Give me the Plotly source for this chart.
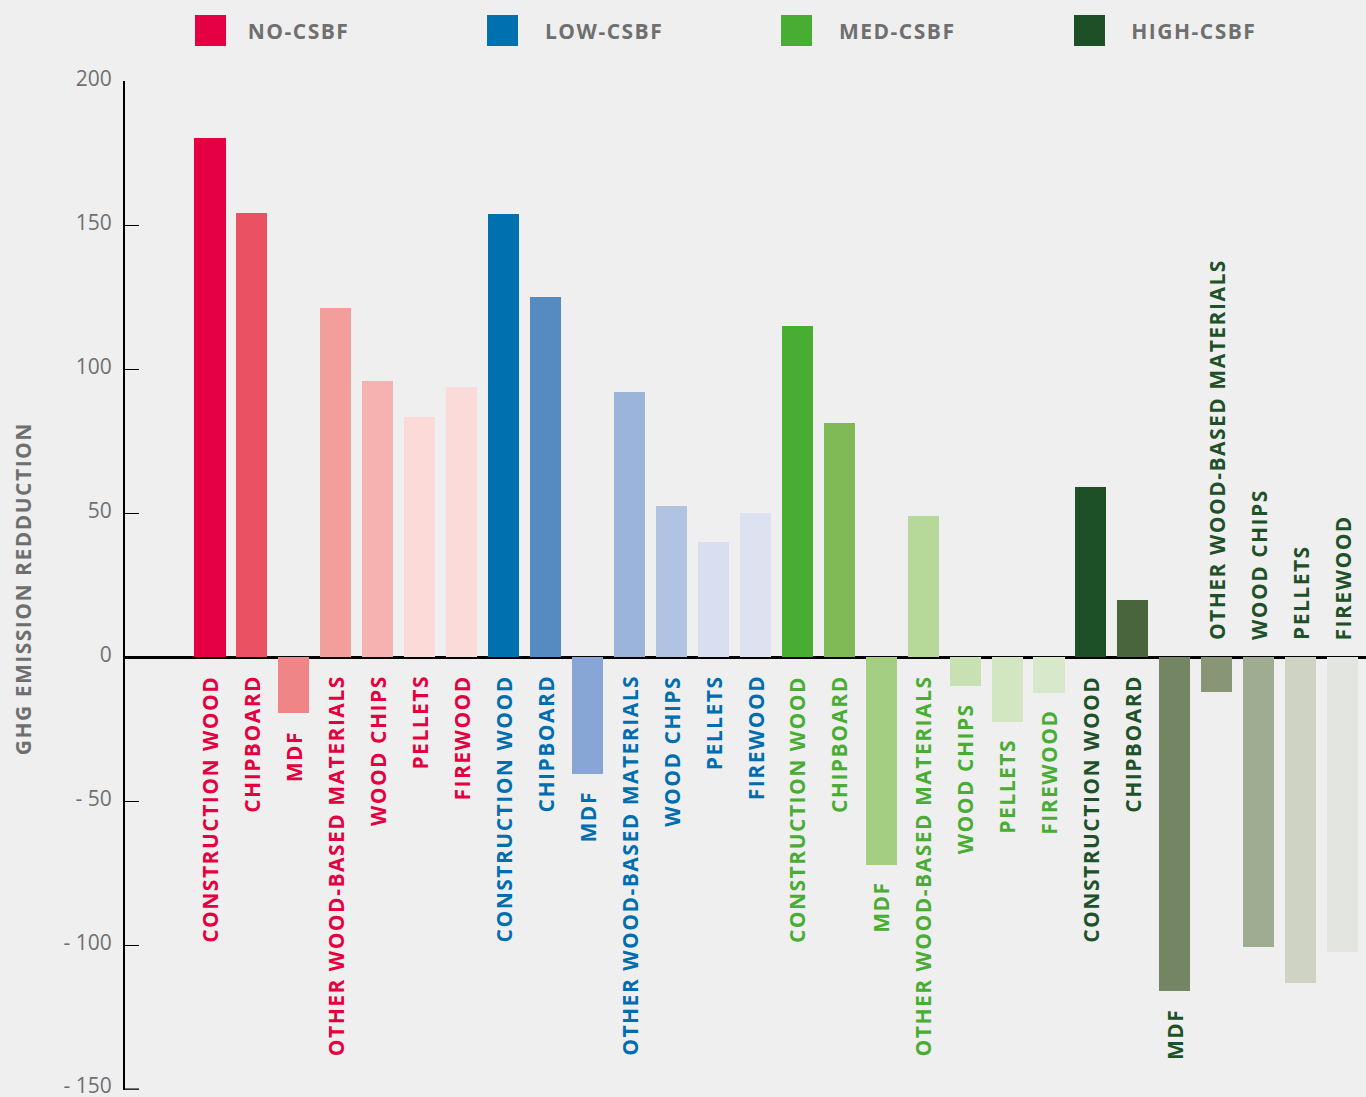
import plotly.graph_objects as go

# ---------------- data ----------------
scenarios = ["NO-CSBF", "LOW-CSBF", "MED-CSBF", "HIGH-CSBF"]
products = ["CONSTRUCTION WOOD", "CHIPBOARD", "MDF", "OTHER WOOD-BASED MATERIALS",
            "WOOD CHIPS", "PELLETS", "FIREWOOD"]

no_csbf = [180.5, 154.5, -19.5, 121.5, 96, 83.5, 94]
low_csbf = [154, 125, -40.5, 92, 52.5, 40, 50]
med_csbf = [115, 81.5, -72, 49, -10, -22.5, -12.5]
high_csbf = [59, 20, -116, -12, -100.5, -113, -102.5]

y_tickvals = [-150, -100, -50, 0, 50, 100, 150, 200]
y_ticktext = ["- 150", "- 100", "- 50", "0", "50", "100", "150", "200"]
y_title = "GHG EMISSION REDDUCTION"

# ---------------- styles ----------------
bar_colors = {
    "NO-CSBF": ["#E50043", "#EA5264", "#F08588", "#F29E9B", "#F5B2B0", "#FBDAD8", "#FADBDA"],
    "LOW-CSBF": ["#0070AF", "#558BC1", "#87A6D5", "#9BB4D9", "#B0C3E2", "#D9DFF0", "#DDE2F1"],
    "MED-CSBF": ["#48AD33", "#7FBA56", "#A4CE82", "#B6D899", "#C7E1B2", "#D1E6C1", "#D8E8CB"],
    "HIGH-CSBF": ["#1E5027", "#49653E", "#748563", "#899676", "#9FAC91", "#CFD3C4", "#E3E6E0"],
}
label_colors = {"NO-CSBF": "#E4003F", "LOW-CSBF": "#006DAE",
                "MED-CSBF": "#49AD34", "HIGH-CSBF": "#1E5128"}
# labels of these (scenario, product-index) pairs are placed above the zero line
labels_above = {("HIGH-CSBF", 3), ("HIGH-CSBF", 4), ("HIGH-CSBF", 5), ("HIGH-CSBF", 6)}

BG = "#EFEFEF"
GREY = "#6F6F6F"
FONT = "Open Sans"
SPACING = 1.5  # letter spacing (px) applied to annotation text in the browser
W, H = 1366, 1097
ML, MR, MT, MB = 125, 0, 81, 7
PW = W - ML - MR
PH = H - MT - MB
STEP = 41.95  # px per category
FIRST_CENTER = 210.0
TICKLEN = 14

values = {"NO-CSBF": no_csbf, "LOW-CSBF": low_csbf,
          "MED-CSBF": med_csbf, "HIGH-CSBF": high_csbf}

fig = go.Figure()
annotations = []
shapes = []

n = len(products)
for g, sc in enumerate(scenarios):
    xs = [g * n + j for j in range(n)]
    vals = values[sc]
    fig.add_trace(go.Bar(
        x=xs, y=vals, name=sc, width=0.74,
        marker=dict(color=bar_colors[sc], line=dict(width=0)),
        showlegend=False, hovertext=products,
    ))
    for j, (xv, v) in enumerate(zip(xs, vals)):
        extra = SPACING * len(products[j]) / 2.0
        if (sc, j) in labels_above:
            ay, yanchor, yshift = 0, "bottom", 15 + extra
        elif v >= 0:
            ay, yanchor, yshift = 0, "top", -16 - extra
        else:
            ay, yanchor, yshift = v, "top", -15 - extra
        annotations.append(dict(
            x=xv, y=ay, xref="x", yref="y", text=products[j],
            showarrow=False, textangle=-90, xanchor="center",
            yanchor=yanchor, yshift=yshift,
            font=dict(family=FONT, size=21, color=label_colors[sc], weight=700),
        ))


def px_to_paper_x(px):
    return (px - ML) / PW


def px_to_paper_y(py):
    return (H - MB - py) / PH


# custom legend (large squares)
legend_sq_x = [195, 487, 781, 1074]
legend_tx_x = [246, 543, 837, 1129]
for sc, sx, tx in zip(scenarios, legend_sq_x, legend_tx_x):
    shapes.append(dict(
        type="rect", xref="paper", yref="paper",
        x0=px_to_paper_x(sx), x1=px_to_paper_x(sx + 31),
        y0=px_to_paper_y(46), y1=px_to_paper_y(15),
        fillcolor=bar_colors[sc][0], line=dict(width=0), layer="above",
    ))
    annotations.append(dict(
        x=px_to_paper_x(tx), y=px_to_paper_y(31), xref="paper", yref="paper",
        text=sc, showarrow=False, xanchor="left", yanchor="middle",
        xshift=SPACING * len(sc) / 2.0,
        font=dict(family=FONT, size=21, color=GREY, weight=700),
    ))

# bottom axis tick (plotly drops the tick that sits on the plot edge)
shapes.append(dict(
    type="line", xref="paper", yref="y",
    x0=0, x1=TICKLEN / PW, y0=y_tickvals[0], y1=y_tickvals[0],
    line=dict(color="black", width=1.3), layer="above",
))

# y-axis title
annotations.append(dict(
    x=px_to_paper_x(23), y=px_to_paper_y(589), xref="paper", yref="paper",
    text=y_title, showarrow=False, textangle=-90, xanchor="center", yanchor="middle",
    font=dict(family=FONT, size=21, color=GREY, weight=700),
))

x0 = -(FIRST_CENTER - ML) / STEP
x1 = x0 + PW / STEP

fig.update_layout(
    width=W, height=H,
    margin=dict(l=ML, r=MR, t=MT, b=MB, pad=0, autoexpand=False),
    paper_bgcolor=BG, plot_bgcolor=BG,
    bargap=0,
    showlegend=False,
    annotations=annotations,
    shapes=shapes,
    xaxis=dict(range=[x0, x1], visible=False, fixedrange=True),
    yaxis=dict(
        range=[-150.3, 200.2], tickvals=y_tickvals, ticktext=y_ticktext,
        ticks="inside", ticklen=TICKLEN, tickwidth=1.3, tickcolor="black",
        showline=True, linecolor="black", linewidth=2.2,
        showgrid=False, zeroline=True, zerolinecolor="black", zerolinewidth=2.5,
        tickfont=dict(family=FONT, size=21, color=GREY),
        ticklabelstandoff=7, ticklabeloverflow="allow", ticklabelshift=-3,
        automargin=False, fixedrange=True, layer="above traces",
    ),
    font=dict(family=FONT),
)

post = (
    "document.body.style.margin='0';"
    "document.body.style.background='%s';"
    "document.querySelectorAll('.annotation-text').forEach(function(e){"
    "e.style.letterSpacing='%spx';});" % (BG, SPACING)
)
fig.write_html("out.html", post_script=post, config={"displayModeBar": False})
